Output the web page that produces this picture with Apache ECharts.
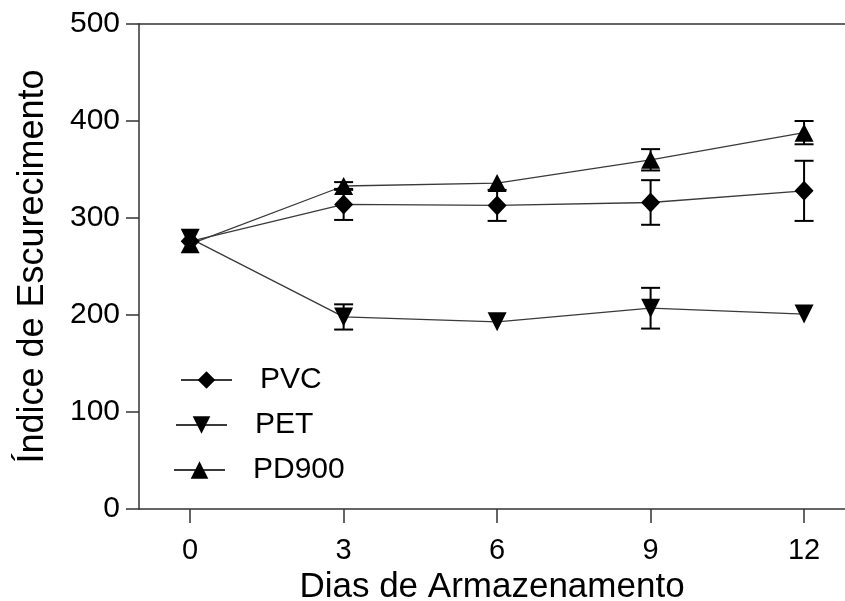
<!DOCTYPE html>
<html>
<head>
<meta charset="utf-8">
<script src="https://cdn.jsdelivr.net/npm/echarts@6/dist/echarts.min.js"></script>
<style>
html,body{margin:0;padding:0;background:#fff;}
#chart{width:845px;height:601px;}
</style>
</head>
<body>
<div id="chart"></div>
<script>
// ---- data ----
var days = [0, 3, 6, 9, 12];
var xTickLabels = [0, 3, 6, 9, 12];
var yTickLabels = [0, 100, 200, 300, 400, 500];
var seriesNames = ['PVC', 'PET', 'PD900'];
var pvc = [276, 314, 313, 316, 328];
var pvcErr = [0, 16, 16, 23, 31];
var pet = [279, 198, 193, 207, 201];
var petErr = [0, 13, 0, 21, 0];
var pd900 = [273, 333, 336, 360, 388];
var pd900Err = [0, 4, 0, 11, 12];

var FONT = '"Liberation Sans", Arial, Helvetica, sans-serif';
var LINE_COLOR = '#3a3a3a';

function pairs(vals) {
  return days.map(function (d, i) { return [d, vals[i]]; });
}
function errRows(vals, errs) {
  return days.map(function (d, i) { return [d, vals[i] - errs[i], vals[i] + errs[i]]; });
}

function renderErr(params, api) {
  var x = api.value(0);
  var loV = api.value(1), hiV = api.value(2);
  if (hiV - loV <= 0) { return { type: 'group', children: [] }; }
  var lo = api.coord([x, loV]);
  var hi = api.coord([x, hiV]);
  var hw = 9.5;
  var st = { stroke: '#000', lineWidth: 2 };
  return {
    type: 'group',
    children: [
      { type: 'line', shape: { x1: lo[0], y1: lo[1], x2: hi[0], y2: hi[1] }, style: st },
      { type: 'line', shape: { x1: lo[0] - hw, y1: lo[1], x2: lo[0] + hw, y2: lo[1] }, style: st },
      { type: 'line', shape: { x1: hi[0] - hw, y1: hi[1], x2: hi[0] + hw, y2: hi[1] }, style: st }
    ]
  };
}

function lineSeries(name, vals, symbol, size, rotate) {
  return {
    name: name,
    type: 'line',
    data: pairs(vals),
    symbol: symbol,
    symbolSize: size,
    symbolRotate: rotate,
    showAllSymbol: true,
    lineStyle: { color: LINE_COLOR, width: 1.3 },
    itemStyle: { color: '#000', borderWidth: 0 },
    z: 3,
    animation: false
  };
}
function errSeries(name, vals, errs) {
  return {
    name: name + ' err',
    type: 'custom',
    renderItem: renderErr,
    data: errRows(vals, errs),
    encode: { x: 0, y: [1, 2] },
    z: 4,
    silent: true,
    animation: false
  };
}

function legendFor(name, left, top) {
  return {
    data: [name],
    left: left,
    top: top,
    padding: 0,
    itemWidth: 51,
    itemHeight: 22,
    selectedMode: false,
    textStyle: { fontFamily: FONT, fontSize: 30, color: '#000', padding: [0, 0, 0, 23] }
  };
}

var chart = echarts.init(document.getElementById('chart'), null, { renderer: 'canvas' });
chart.setOption({
  animation: false,
  backgroundColor: '#fff',
  grid: { left: 139, right: 0, top: 24, bottom: 92, containLabel: false, outerBoundsMode: 'none' },
  legend: [
    legendFor(seriesNames[0], 180, 365),
    legendFor(seriesNames[1], 175, 410),
    legendFor(seriesNames[2], 173, 455)
  ],
  xAxis: [{
    type: 'value',
    min: -1,
    max: 12.8,
    position: 'bottom',
    axisLine: { show: true, onZero: false, lineStyle: { color: '#333', width: 1.5 } },
    axisTick: { show: true, length: 14, inside: false, customValues: xTickLabels, lineStyle: { color: '#333', width: 1.5 } },
    axisLabel: { customValues: xTickLabels, margin: 27, fontFamily: FONT, fontSize: 29, color: '#000' },
    splitLine: { show: false },
    name: 'Dias de Armazenamento',
    nameLocation: 'middle',
    nameGap: 54,
    nameTextStyle: { fontFamily: FONT, fontSize: 35, color: '#000' }
  }, {
    type: 'value',
    min: -1,
    max: 12.8,
    position: 'top',
    axisLine: { show: true, onZero: false, lineStyle: { color: '#333', width: 1.5 } },
    axisTick: { show: false },
    axisLabel: { show: false },
    splitLine: { show: false }
  }],
  yAxis: {
    type: 'value',
    min: 0,
    max: 500,
    interval: 100,
    axisLine: { show: true, onZero: false, lineStyle: { color: '#333', width: 1.5 } },
    axisTick: { show: true, length: 13, lineStyle: { color: '#333', width: 1.5 } },
    axisLabel: { margin: 19, fontFamily: FONT, fontSize: 30, color: '#000',
      formatter: function (v) { return yTickLabels.indexOf(v) >= 0 ? String(v) : ''; } },
    splitLine: { show: false },
    name: 'Índice de Escurecimento',
    nameLocation: 'middle',
    nameGap: 88,
    nameTextStyle: { fontFamily: FONT, fontSize: 36, color: '#000' }
  },
  series: [
    lineSeries(seriesNames[0], pvc, 'diamond', [19, 20], 0),
    lineSeries(seriesNames[1], pet, 'triangle', [19, 19], 180),
    lineSeries(seriesNames[2], pd900, 'triangle', [19, 18], 0),
    errSeries(seriesNames[0], pvc, pvcErr),
    errSeries(seriesNames[1], pet, petErr),
    errSeries(seriesNames[2], pd900, pd900Err)
  ]
});
</script>
</body>
</html>
